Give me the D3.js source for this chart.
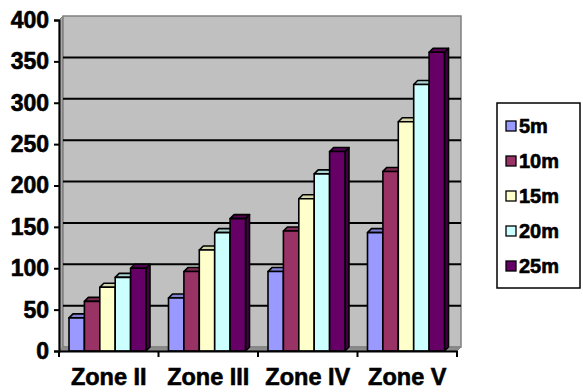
<!DOCTYPE html>
<html><head><meta charset="utf-8">
<script src="https://cdn.jsdelivr.net/npm/d3@7"></script>
<style>
html,body{margin:0;padding:0;background:#fff;}
svg{display:block;}
text{font-family:"Liberation Sans",Arial,sans-serif;font-weight:bold;fill:#000;stroke:#000;stroke-width:0.6px;}
</style></head>
<body>
<svg id="c" width="583" height="392"></svg>
<script>
const categories = ["Zone II", "Zone III", "Zone IV", "Zone V"];
const seriesNames = ["5m", "10m", "15m", "20m", "25m"];
const seriesColors = ["#9999FF", "#993366", "#FFFFCC", "#CCFFFF", "#660066"];
const s5m  = [40, 64, 96, 143];
const s10m = [60, 96, 145, 217];
const s15m = [77, 122, 184, 277];
const s20m = [89, 143, 214, 322];
const s25m = [100, 160, 241, 361];
const seriesValues = [s5m, s10m, s15m, s20m, s25m];
const yTicks = [0, 50, 100, 150, 200, 250, 300, 350, 400];

const svg = d3.select("#c");
const D = 4; // 3D depth offset
const x0 = 59, x1 = 457, yBase = 351, yTop = 20;
const y = d3.scaleLinear().domain([0, 400]).range([yBase, yTop]);
const x = d3.scaleBand().domain(categories).range([x0, x1]).padding(0);
const xs = d3.scaleBand().domain(seriesNames).range([10, 87]).padding(0);

// walls
const wallStroke = "#808080";
svg.append("polygon")
  .attr("points", [[x0, yBase],[x0 + D, yBase - D],[x0 + D, yTop - D],[x0, yTop]].join(" "))
  .attr("fill", "#a6a6a6").attr("stroke", wallStroke).attr("stroke-width", 1);
svg.append("rect")
  .attr("x", x0 + D).attr("y", yTop - D).attr("width", x1 - x0).attr("height", yBase - yTop)
  .attr("fill", "#c0c0c0").attr("stroke", wallStroke).attr("stroke-width", 1.5);
svg.append("polygon")
  .attr("points", [[x0, yBase],[x0 + D, yBase - D],[x1 + D, yBase - D],[x1, yBase]].join(" "))
  .attr("fill", "#8c8c8c").attr("stroke", wallStroke).attr("stroke-width", 1);

// gridlines on back wall
svg.append("g").selectAll("line").data(yTicks.filter(t => t > 0 && t < 400)).join("line")
  .attr("x1", x0 + D).attr("x2", x1 + D)
  .attr("y1", d => y(d) - D).attr("y2", d => y(d) - D)
  .attr("stroke", "#000").attr("stroke-width", 2);

// bars
const bars = svg.append("g");
categories.forEach((cat, ci) => {
  seriesNames.forEach((sn, si) => {
    const v = seriesValues[si][ci];
    const bx = x(cat) + xs(sn), bw = xs.bandwidth();
    const yv = y(v), y0 = y(0);
    const col = d3.color(seriesColors[si]);
    const g = bars.append("g").attr("stroke", "#000").attr("stroke-width", 1.6).attr("stroke-linejoin", "round");
    g.append("polygon")
      .attr("points", [[bx + bw, yv],[bx + bw + D, yv - D],[bx + bw + D, y0 - D],[bx + bw, y0]].join(" "))
      .attr("fill", col.darker(1.2));
    g.append("polygon")
      .attr("points", [[bx, yv],[bx + D, yv - D],[bx + bw + D, yv - D],[bx + bw, yv]].join(" "))
      .attr("fill", col.darker(0.5));
    g.append("rect").attr("x", bx).attr("y", yv).attr("width", bw).attr("height", y0 - yv)
      .attr("fill", col);
  });
});

// y axis
const yAxis = svg.append("g").attr("transform", `translate(${x0},0)`)
  .call(d3.axisLeft(y).tickValues(yTicks).tickSize(5).tickPadding(5));
yAxis.select(".domain").attr("stroke", "#000").attr("stroke-width", 2);
yAxis.selectAll(".tick line").attr("stroke", "#000").attr("stroke-width", 2);
yAxis.selectAll("text").style("font-size", "23px").attr("fill", "#000");

// x axis
const xAxis = svg.append("g").attr("transform", `translate(0,${yBase})`)
  .call(d3.axisBottom(x).tickSize(0).tickPadding(17));
xAxis.select(".domain").attr("stroke", "#000").attr("stroke-width", 2);
xAxis.selectAll("text").style("font-size", "23.5px").attr("fill", "#000");
svg.append("g").selectAll("line").data(d3.range(categories.length + 1)).join("line")
  .attr("x1", i => x0 + i * x.step()).attr("x2", i => x0 + i * x.step())
  .attr("y1", yBase).attr("y2", yBase + 6)
  .attr("stroke", "#000").attr("stroke-width", 2);

// legend
const lg = svg.append("g");
lg.append("rect").attr("x", 497).attr("y", 103).attr("width", 83).attr("height", 185)
  .attr("fill", "#fff").attr("stroke", "#000").attr("stroke-width", 1.5);
const ly = d3.scalePoint().domain(seriesNames).range([126, 266]);
seriesNames.forEach((sn, i) => {
  lg.append("rect").attr("x", 506).attr("y", ly(sn) - 5).attr("width", 10).attr("height", 10)
    .attr("fill", seriesColors[i]).attr("stroke", "#000").attr("stroke-width", 1.3);
  lg.append("text").attr("x", 519).attr("y", ly(sn)).attr("dy", "0.36em")
    .style("font-size", "20px").text(sn);
});
</script>
</body></html>
